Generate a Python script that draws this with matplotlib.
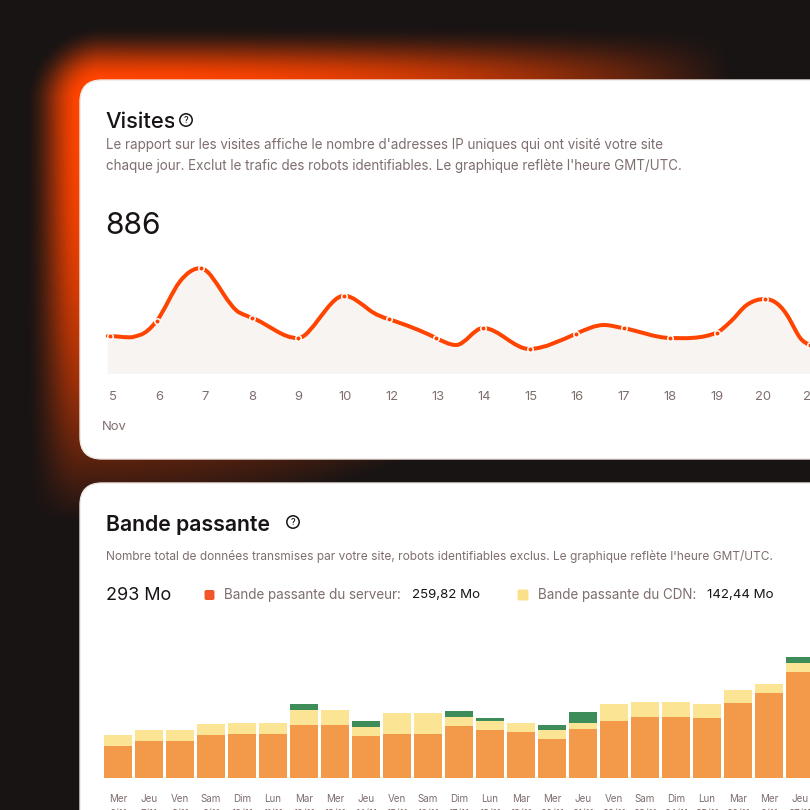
import numpy as np
import matplotlib
matplotlib.use("Agg")
import matplotlib.pyplot as plt
from matplotlib.patches import FancyBboxPatch, Circle, PathPatch
from matplotlib.path import Path
from matplotlib.transforms import Bbox

plt.rcParams['font.family'] = ['Inter', 'DejaVu Sans']

# ---------- data ----------
visit_days = ['5', '6', '7', '8', '9', '10', '12', '13', '14', '15', '16', '17', '18', '19', '20', '21']
visit_time = [-0.05, 0.955, 1.9, 3.01, 4.0, 4.99, 5.95, 6.96, 7.97, 8.98, 9.97, 11.0, 11.99, 12.99, 14.03, 15.0]
visit_vals = [38, 53.3, 105.7, 56, 36, 78.3, 54.7, 36, 46, 25, 40.3, 45.7, 36, 41.3, 75, 29]

# curve outline: position, value and local slope
curve_time = [-0.1, 0.375, 0.59, 0.955, 1.448, 1.9, 2.378, 2.736, 3.01, 4.0, 4.45, 4.99, 5.525, 5.95, 6.96,
              7.39, 7.97, 8.98, 9.97, 10.57, 11.0, 11.99, 12.99, 13.29, 13.64, 14.03, 14.57, 14.79, 15.0]
curve_vals = [38, 36.7, 39, 53.3, 92.3, 105.7, 80.7, 61.3, 56, 36, 55.7, 78.3, 64, 54.7, 36,
              29, 46, 25, 40.3, 49, 45.7, 36, 41.3, 52.3, 69, 75, 54, 36, 29]
curve_slope = [0, 0, 14, 60, 60, -3, -70, -23, -17, 3, 60, -2, -35, -15, -23,
               0, 0, 2, 20, 0, -8, -1, 19, 42, 33, 0, -84, -60, -20]

bar_days = ['Mer', 'Jeu', 'Ven', 'Sam', 'Dim', 'Lun', 'Mar', 'Mer', 'Jeu', 'Ven', 'Sam', 'Dim',
            'Lun', 'Mar', 'Mer', 'Jeu', 'Ven', 'Sam', 'Dim', 'Lun', 'Mar', 'Mer', 'Jeu']
bar_dates = ['6/11', '7/11', '8/11', '9/11', '10/11', '11/11', '12/11', '13/11', '14/11', '15/11', '16/11', '17/11',
             '18/11', '19/11', '20/11', '21/11', '22/11', '23/11', '24/11', '25/11', '26/11', '9/11', '27/11']
server = [32.7, 37.3, 37.3, 43.3, 44.3, 44.3, 53.7, 53.7, 42.7, 44, 44, 52.3,
          48, 46, 39.3, 49.3, 57.3, 61.3, 61.3, 60.3, 75, 85.7, 106]
cdn = [11, 11, 11, 11.3, 11, 11, 14.7, 14.7, 9, 21.3, 21.3, 9.3,
       9.3, 9.7, 9.3, 5.7, 17, 15.3, 15.3, 13.7, 13.7, 9, 9.3]
other = [0, 0, 0, 0, 0, 0, 5.7, 0, 5.7, 0, 0, 5.7,
         3, 0, 5, 11.7, 0, 0, 0, 0, 0, 0, 5.7]

# ---------- colours ----------
BG = np.array([0x18, 0x14, 0x14]) / 255
GLOW = np.array([0xff, 0x44, 0x00]) / 255
DARK = '#181414'
MUTED = '#7f6e6e'
RED = '#ff4400'

W = H = 810
fig = plt.figure(figsize=(8.1, 8.1), dpi=100)
px = 0.72  # points per pixel


def axes_px(x0, y0, x1, y1):
    return fig.add_axes([x0 / W, 1 - y1 / H, (x1 - x0) / W, (y1 - y0) / H])


bg = fig.add_axes([0, 0, 1, 1])
bg.set_xlim(0, W)
bg.set_ylim(H, 0)
bg.axis('off')

# ---------- glow ----------
yy, xx = np.mgrid[0:H, 0:W] + 0.5
r = 22
dx = np.maximum(80 + r - xx, 0)
dy = np.maximum(80 + r - yy, 0)
d = np.maximum(np.hypot(dx, dy) - r, 0)
t = np.clip(1 - d / 55, 0, 1)
profile = t * t * (3 - 2 * t)
e2 = ((xx - 80) / 650) ** 2 + ((yy - 80) / 440) ** 2
weight = np.clip(1 - e2 ** 1.15, 0, 1)
a = (profile * weight)[..., None]
bg.imshow(BG * (1 - a) + GLOW * a, extent=(0, W, H, 0), interpolation='bilinear', zorder=0, aspect='auto')
bg.set_xlim(0, W)
bg.set_ylim(H, 0)


def card(y0, y1):
    bg.add_patch(FancyBboxPatch((80 + r, y0 + r), 900, y1 - y0 - 2 * r,
                                boxstyle=f'round,pad={r},rounding_size={r}',
                                fc='white', ec='#efe6e2', lw=1, zorder=1))


card(80, 459)
card(483, 1000)


def label(x, y, s, size, color=MUTED, weight='normal', ha='left'):
    return bg.text(x, y, s, fontsize=size * px, color=color, fontweight=weight, ha=ha, va='center', zorder=3)


def help_icon(x, y):
    bg.add_patch(Circle((x, y), 6.2, fc='none', ec=DARK, lw=1.1, zorder=3))
    bg.text(x, y + 0.2, '?', fontsize=9 * px, color=DARK, ha='center', va='center', zorder=3, fontweight='medium')


# ---------- visits card ----------
tv = label(105.5, 121.5, 'Visites', 22, DARK, 'medium')
tv.set_clip_box(Bbox([[0, 0], [173.5, 810]]))
tv.set_clip_on(True)
help_icon(186, 120)
label(106, 145, "Le rapport sur les visites affiche le nombre d'adresses IP uniques qui ont visité votre site", 13.42)
label(106, 166, "chaque jour. Exclut le trafic des robots identifiables. Le graphique reflète l'heure GMT/UTC.", 13.42)
label(105, 225.5, '886', 30, DARK)

ax = axes_px(80, 250, 810, 374)
ax.patch.set_alpha(0)
ax.set_xlim((80 - 112.5) / 46.6, (810 - 112.5) / 46.6)
ax.set_ylim(0, 124)
for s in ax.spines.values():
    s.set_visible(False)

xs = np.array(curve_time)
ys = np.array(curve_vals, dtype=float)
m = np.array(curve_slope, dtype=float)
verts = [(xs[0], ys[0])]
codes = [Path.MOVETO]
for i in range(len(xs) - 1):
    h = (xs[i + 1] - xs[i]) / 3
    verts += [(xs[i] + h, ys[i] + m[i] * h), (xs[i + 1] - h, ys[i + 1] - m[i + 1] * h), (xs[i + 1], ys[i + 1])]
    codes += [Path.CURVE4] * 3
area_v = verts + [(xs[-1], 0), (xs[0], 0), (xs[0], ys[0])]
area_c = codes + [Path.LINETO, Path.LINETO, Path.CLOSEPOLY]
ax.add_patch(PathPatch(Path(area_v, area_c), fc='#f8f4f2', ec='none', zorder=1))
ax.add_patch(PathPatch(Path(verts, codes), fc='none', ec=RED, lw=4 * px, capstyle='round', zorder=2))
ax.plot(visit_time, visit_vals, 'o', ms=7 * px, mfc='white', mec='none', zorder=3)
ax.plot(visit_time, visit_vals, 'o', ms=4 * px, mfc=RED, mec='none', zorder=4)
ax.set_yticks([])
ax.set_xticks(np.arange(len(visit_days)))
ax.set_xticklabels(visit_days, fontsize=13 * px, color=MUTED)
ax.tick_params(axis='x', length=0, pad=17.5 * px)
label(101.5, 427.5, 'Nov', 13)

# ---------- bandwidth card ----------
label(106, 525, 'Bande passante', 21.3, DARK, 'semibold')
help_icon(293, 522)
label(106, 556.5, "Nombre total de données transmises par votre site, robots identifiables exclus. Le graphique reflète l'heure GMT/UTC.", 11.9)
label(106, 596, '293 Mo', 18, DARK)
bg.add_patch(FancyBboxPatch((205.5, 591), 8, 8, boxstyle='round,pad=1,rounding_size=2', fc='#f0562a', ec='none', zorder=3))
label(224.5, 595.5, 'Bande passante du serveur:', 13.5)
label(412.5, 595.5, '259,82 Mo', 13.3, DARK)
bg.add_patch(FancyBboxPatch((518.5, 590.5), 9, 9, boxstyle='round,pad=1,rounding_size=2', fc='#fbe08a', ec='none', zorder=3))
label(538, 595.5, 'Bande passante du CDN:', 13.5)
label(707, 595.5, '142,44 Mo', 13.3, DARK)

bx = axes_px(80, 640, 810, 778.3)
bx.patch.set_alpha(0)
bx.set_xlim((80 - 118) / 31, (810 - 118) / 31)
bx.set_ylim(0, 138.3)
for s in bx.spines.values():
    s.set_visible(False)
pos = np.arange(len(server))
s_arr, c_arr, o_arr = np.array(server), np.array(cdn), np.array(other)
bw = 28 / 31
bx.bar(pos, s_arr, bw, color='#f2994a', zorder=2)
bx.bar(pos, c_arr, bw, bottom=s_arr, color='#fbe595', zorder=2)
bx.bar(pos, o_arr, bw, bottom=s_arr + c_arr, color='#3e8c5a', zorder=2)
bx.set_yticks([])
bx.set_xticks(pos)
bx.set_xticklabels([f'{a}\n{b}' for a, b in zip(bar_days, bar_dates)], fontsize=9.8 * px, color=MUTED, linespacing=1.6)
bx.tick_params(axis='x', length=0, pad=15.5 * px)

fig.savefig('out.png', dpi=100)
